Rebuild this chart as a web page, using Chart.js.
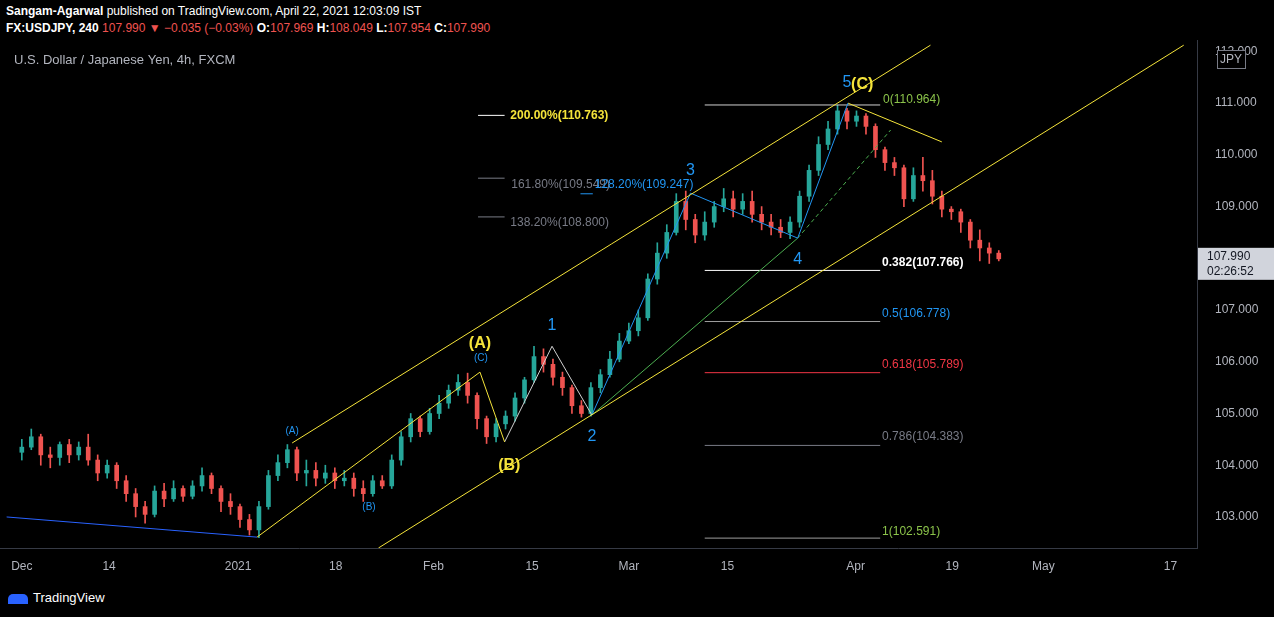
<!DOCTYPE html>
<html lang="en">
<head>
<meta charset="UTF-8">
<title>USDJPY 4h</title>
<script src="https://cdn.jsdelivr.net/npm/chart.js@4.4.0/dist/chart.umd.min.js"></script>
<style>
  body { margin: 0; background: #000; width: 1274px; height: 617px; overflow: hidden; font-family: "Liberation Sans", Arial, sans-serif; }
  #head1 { position: absolute; left: 6px; top: 4px; color: #fff; font-size: 12px; }
  #head2 { position: absolute; left: 6px; top: 21px; color: #fff; font-size: 12px; font-weight: bold; }
  #head2 span.r { color: #ef5350; font-weight: normal; }
  #foot { position: absolute; left: 8px; top: 590px; color: #fff; font-size: 13px; }
  #foot i { display: inline-block; width: 20px; height: 10px; background: #2962ff; border-radius: 5px 5px 0 0; margin-right: 5px; vertical-align: middle; }
  canvas { position: absolute; left: 0; top: 0; }
</style>
</head>
<body>
<div id="head1"><b>Sangam-Agarwal</b> published on TradingView.com, April 22, 2021 12:03:09 IST</div>
<div id="head2">FX:USDJPY, 240 <span class="r">107.990 ▼ −0.035 (−0.03%)</span> O:<span class="r">107.969</span> H:<span class="r">108.049</span> L:<span class="r">107.954</span> C:<span class="r">107.990</span></div>
<div id="foot"><i></i>TradingView</div>
<canvas id="c" width="1274" height="617"></canvas>
<script>
// one candle per trading day, index 0 = Dec 1 2020
const opens  = [104.25,104.35,104.55,104.2,104.15,104.4,104.2,104.35,104.1,103.85,104.0,103.7,103.45,103.2,103.05,103.5,103.35,103.55,103.4,103.6,103.8,103.55,103.3,103.2,102.95,102.75,103.2,103.8,104.05,104.3,103.85,103.9,103.75,103.85,103.7,103.75,103.55,103.45,103.7,103.6,104.1,104.55,104.9,104.65,105.0,105.2,105.45,105.6,105.35,104.9,104.55,104.8,104.95,105.3,105.65,106.1,105.95,105.7,105.5,105.15,105.0,105.5,105.75,106.05,106.4,106.6,106.85,107.6,108.1,108.5,109.1,108.75,108.45,108.7,109.0,109.15,108.95,109.1,108.85,108.7,108.6,108.5,108.7,109.2,109.7,110.2,110.5,110.85,110.65,110.75,110.55,110.1,109.85,109.75,109.15,109.6,109.5,109.2,108.95,108.9,108.7,108.35,108.2,108.1];
const highs  = [104.5,104.7,104.6,104.35,104.45,104.5,104.45,104.6,104.2,104.1,104.05,103.8,103.55,103.3,103.6,103.65,103.7,103.6,103.7,103.95,103.85,103.6,103.45,103.25,103.05,103.3,103.9,104.2,104.4,104.35,104.1,104.05,104.0,103.95,103.9,103.85,103.7,103.8,103.8,104.2,104.65,105.0,104.95,105.1,105.35,105.55,105.75,105.78,105.4,104.95,104.9,105.05,105.4,105.7,106.3,106.25,106.05,105.8,105.55,105.25,105.6,105.85,106.2,106.55,106.75,107.0,107.7,108.3,108.65,109.25,109.3,108.85,108.9,109.1,109.35,109.3,109.25,109.3,109.0,108.85,108.75,108.8,109.3,109.8,110.35,110.65,110.96,110.9,110.85,110.8,110.6,110.15,109.95,109.8,109.75,109.95,109.7,109.3,109.0,108.95,108.75,108.55,108.3,108.15];
const lows   = [104.1,104.3,104.0,103.95,104.0,104.05,104.1,104.0,103.7,103.75,103.55,103.3,103.0,102.88,103.0,103.2,103.3,103.3,103.35,103.5,103.45,103.1,103.05,102.8,102.65,102.6,103.15,103.7,103.95,103.7,103.6,103.6,103.65,103.55,103.6,103.4,103.3,103.4,103.55,103.55,104.0,104.45,104.55,104.6,104.9,105.1,105.35,105.2,104.7,104.42,104.45,104.7,104.85,105.2,105.6,105.8,105.55,105.35,105.0,104.93,104.95,105.4,105.7,106.0,106.35,106.5,106.8,107.5,108.0,108.45,108.55,108.3,108.35,108.6,108.9,108.8,108.85,108.7,108.55,108.45,108.4,108.38,108.6,109.1,109.6,110.1,110.4,110.5,110.55,110.4,109.95,109.7,109.6,109.0,109.1,109.3,109.05,108.8,108.75,108.5,108.2,107.95,107.9,107.95];
const closes = [104.35,104.55,104.2,104.15,104.4,104.2,104.35,104.1,103.85,104.0,103.7,103.45,103.2,103.05,103.5,103.35,103.55,103.4,103.6,103.8,103.55,103.3,103.2,102.95,102.75,103.2,103.8,104.05,104.3,103.85,103.9,103.75,103.85,103.7,103.75,103.55,103.45,103.7,103.6,104.1,104.55,104.9,104.65,105.0,105.2,105.45,105.6,105.35,104.9,104.55,104.8,104.95,105.3,105.65,106.1,105.95,105.7,105.5,105.15,105.0,105.5,105.75,106.05,106.4,106.6,106.85,107.6,108.1,108.5,109.1,108.75,108.45,108.7,109.0,109.15,108.95,109.1,108.85,108.7,108.6,108.5,108.7,109.2,109.7,110.2,110.5,110.85,110.65,110.75,110.55,110.1,109.85,109.75,109.15,109.6,109.5,109.2,108.95,108.9,108.7,108.35,108.2,108.1,107.99];

const tickVals = [0, 9.2, 22.8, 33.1, 43.4, 53.8, 64, 74.4, 87.9, 98.1, 107.7, 121.1];
const tickText = ['Dec', '14', '2021', '18', 'Feb', '15', 'Mar', '15', 'Apr', '19', 'May', '17'];
const priceTicks = [103, 104, 105, 106, 107, 108, 109, 110, 111, 112];
const lastPrice = 107.99;

// drawn lines: [x1, y1, x2, y2, colour, dash]
const drawLines = [
  [-1.6, 103.0, 24.8, 102.61, '#2962ff', []],
  [28.5, 104.43, 95.8, 112.12, '#f5e43a', []],
  [24.8, 102.61, 48.3, 105.80, '#f5e43a', []],
  [37.6, 102.40, 122.5, 112.12, '#f5e43a', []],
  [48.3, 105.80, 50.9, 104.45, '#f5e43a', []],
  [50.9, 104.45, 55.9, 106.30, '#d0d0d0', []],
  [55.9, 106.30, 60.1, 104.97, '#d0d0d0', []],
  [60.1, 104.97, 70.5, 109.26, '#2196f3', []],
  [70.5, 109.26, 81.8, 108.39, '#2196f3', []],
  [81.8, 108.39, 87.1, 111.0, '#2196f3', []],
  [87.1, 111.0, 97.0, 110.25, '#f5e43a', []],
  [60.1, 104.97, 81.8, 108.39, '#4caf50', []],
  [81.8, 108.39, 91.6, 110.48, '#4caf50', [4, 3]],
  [72.0, 110.964, 90.5, 110.964, '#d0d0d0', []],
  [72.0, 107.766, 90.5, 107.766, '#ffffff', []],
  [72.0, 106.778, 90.5, 106.778, '#9e9e9e', []],
  [72.0, 105.789, 90.5, 105.789, '#f23645', []],
  [72.0, 104.383, 90.5, 104.383, '#787b86', []],
  [72.0, 102.591, 90.5, 102.591, '#9e9e9e', []],
  [48.1, 110.763, 50.9, 110.763, '#ffffff', []],
  [48.1, 109.549, 50.9, 109.549, '#787b86', []],
  [48.1, 108.800, 50.9, 108.800, '#787b86', []],
  [58.9, 109.247, 60.2, 109.247, '#2196f3', []]
];

// text labels: [x, y, text, colour, size, align, bold]
const labels = [
  [87.0, 111.39, '5', '#2196f3', 16, 'center', false],
  [88.6, 111.35, '(C)', '#f5e43a', 16, 'center', true],
  [90.8, 111.07, '0(110.964)', '#8bc34a', 12, 'left', false],
  [51.5, 110.75, '200.00%(110.763)', '#f5e43a', 12, 'left', true],
  [70.5, 109.7, '3', '#2196f3', 16, 'center', false],
  [51.6, 109.43, '161.80%(109.549)', '#787b86', 12, 'left', false],
  [60.4, 109.43, '128.20%(109.247)', '#2196f3', 12, 'left', false],
  [51.5, 108.69, '138.20%(108.800)', '#787b86', 12, 'left', false],
  [81.8, 107.98, '4', '#2196f3', 16, 'center', false],
  [90.7, 107.92, '0.382(107.766)', '#ffffff', 12, 'left', true],
  [90.7, 106.93, '0.5(106.778)', '#2196f3', 12, 'left', false],
  [55.9, 106.70, '1', '#2196f3', 16, 'center', false],
  [48.3, 106.35, '(A)', '#f5e43a', 16, 'center', true],
  [48.4, 106.07, '(C)', '#2196f3', 10, 'center', false],
  [90.7, 105.94, '0.618(105.789)', '#f23645', 12, 'left', false],
  [28.5, 104.66, '(A)', '#2196f3', 10, 'center', false],
  [60.1, 104.55, '2', '#2196f3', 16, 'center', false],
  [90.7, 104.55, '0.786(104.383)', '#787b86', 12, 'left', false],
  [51.4, 104.0, '(B)', '#f5e43a', 16, 'center', true],
  [36.6, 103.19, '(B)', '#2196f3', 10, 'center', false],
  [90.7, 102.72, '1(102.591)', '#8bc34a', 12, 'left', false]
];

const UP = '#26a69a', DOWN = '#ef5350';
const idx = closes.map((c, i) => i);
const colr = ctx => closes[ctx.dataIndex] >= opens[ctx.dataIndex] ? UP : DOWN;

const datasets = [
  { type: 'bar', data: idx.map(i => ({ x: i, y: [lows[i], highs[i]] })), backgroundColor: colr, barThickness: 1, grouped: false, order: 2 },
  { type: 'bar', data: idx.map(i => ({ x: i, y: [opens[i], closes[i]] })), backgroundColor: colr, barThickness: 4, grouped: false, minBarLength: 1, order: 1 }
];
drawLines.forEach(l => datasets.push({
  type: 'line', data: [{ x: l[0], y: l[1] }, { x: l[2], y: l[3] }],
  borderColor: l[4], borderDash: l[5], borderWidth: 1, pointRadius: 0, order: 0
}));

const overlay = {
  id: 'overlay',
  afterDraw(chart) {
    const { ctx, scales: { x, y }, chartArea } = chart;
    ctx.save();
    ctx.beginPath();
    ctx.rect(chartArea.left, chartArea.top, chartArea.right - chartArea.left, chartArea.bottom - chartArea.top);
    ctx.clip();
    ctx.textBaseline = 'middle';
    labels.forEach(t => {
      ctx.font = (t[6] ? 'bold ' : '') + t[4] + 'px "Liberation Sans", Arial';
      ctx.fillStyle = t[3];
      ctx.textAlign = t[5];
      ctx.fillText(t[2], x.getPixelForValue(t[0]), y.getPixelForValue(t[1]));
    });
    ctx.fillStyle = '#b2b5be';
    ctx.font = '13px "Liberation Sans", Arial';
    ctx.textAlign = 'left';
    ctx.fillText('U.S. Dollar / Japanese Yen, 4h, FXCM', 14, 60);
    ctx.restore();
    // last price box
    const py = y.getPixelForValue(lastPrice);
    ctx.save();
    ctx.fillStyle = '#d1d4dc';
    ctx.fillRect(chartArea.right + 1, py - 11, 76, 32);
    ctx.fillStyle = '#131722';
    ctx.font = '12px "Liberation Sans", Arial';
    ctx.textAlign = 'left';
    ctx.textBaseline = 'middle';
    ctx.fillText(lastPrice.toFixed(3), chartArea.right + 10, py - 2);
    ctx.fillText('02:26:52', chartArea.right + 10, py + 13);
    // JPY badge
    ctx.strokeStyle = '#787b86';
    ctx.fillStyle = '#000';
    ctx.fillRect(chartArea.right + 20, 50, 28, 18);
    ctx.strokeRect(chartArea.right + 20.5, 50.5, 28, 18);
    ctx.fillStyle = '#b2b5be';
    ctx.textAlign = 'center';
    ctx.fillText('JPY', chartArea.right + 34, 60);
    ctx.restore();
  }
};

new Chart(document.getElementById('c'), {
  type: 'bar',
  data: { datasets },
  plugins: [overlay],
  options: {
    responsive: false,
    animation: false,
    layout: { padding: { top: 40, bottom: 37, left: 0, right: 0 } },
    plugins: { legend: { display: false }, tooltip: { enabled: false } },
    scales: {
      x: {
        type: 'linear', min: -2.3, max: 123.9, offset: false,
        afterBuildTicks: ax => { ax.ticks = tickVals.map(v => ({ value: v })); },
        afterFit: ax => { ax.height = 32; },
        ticks: {
          color: '#b2b5be', font: { size: 12 }, maxRotation: 0, autoSkip: false,
          callback: v => tickText[tickVals.indexOf(v)]
        },
        grid: { display: false, offset: false },
        border: { color: '#363a45' }
      },
      y: {
        position: 'right', min: 102.40, max: 112.22,
        afterBuildTicks: ax => { ax.ticks = priceTicks.map(v => ({ value: v })); },
        afterFit: ax => { ax.width = 77; },
        ticks: { color: '#b2b5be', font: { size: 12 }, padding: 10, callback: v => v.toFixed(3) },
        grid: { display: false },
        border: { color: '#363a45' }
      }
    }
  }
});
</script>
</body>
</html>
